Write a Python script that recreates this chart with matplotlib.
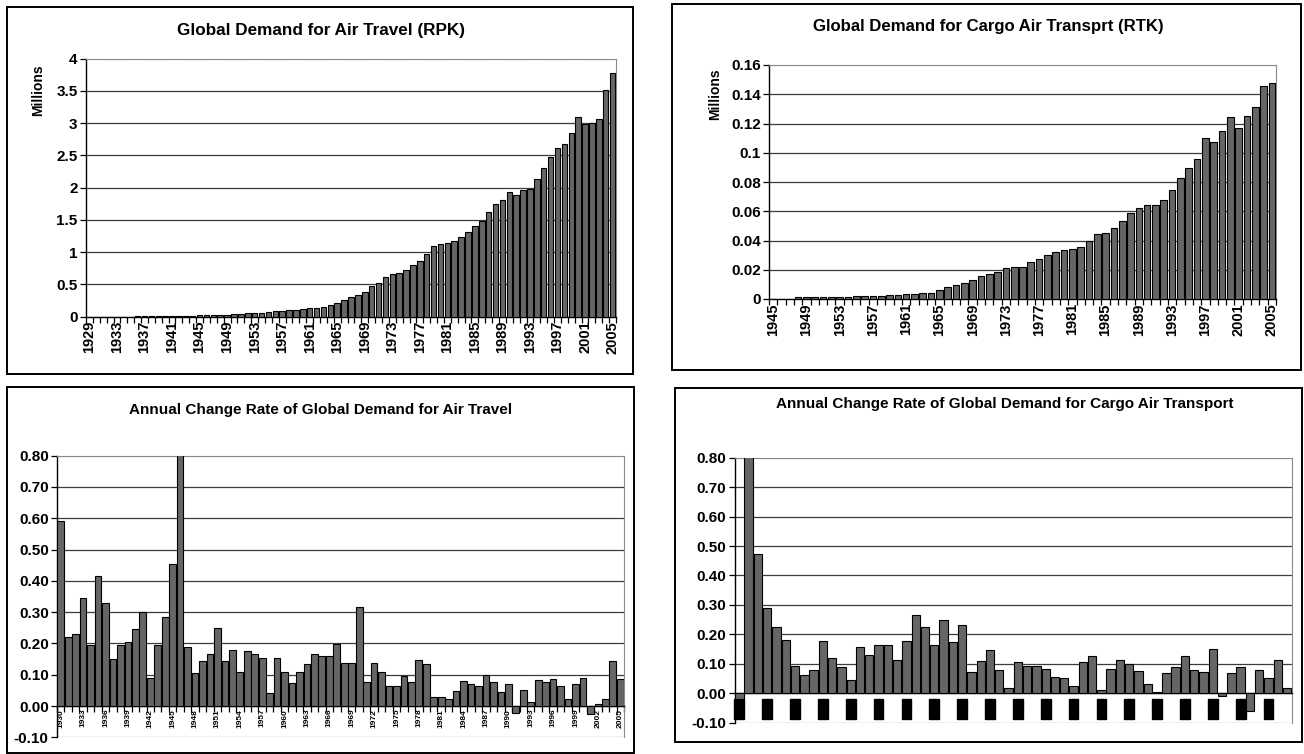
import numpy as np
import matplotlib
matplotlib.use("Agg")
import matplotlib.pyplot as plt
from matplotlib.patches import Rectangle

plt.rcParams['font.family'] = ['Liberation Sans', 'DejaVu Sans']
plt.rcParams['font.weight'] = 'bold'

# Revenue passenger km, 1929-2005 (millions)
rpk_years = list(range(1929, 2006))
rpk = [0.0005, 0.0008, 0.001, 0.0012, 0.0016, 0.0019, 0.0027, 0.0036, 0.0041, 0.0049,
       0.0059, 0.0074, 0.0096, 0.0105, 0.0126, 0.0162, 0.02, 0.025, 0.028, 0.03,
       0.033, 0.037, 0.045, 0.05, 0.057, 0.063, 0.072, 0.083, 0.093, 0.097,
       0.11, 0.12, 0.13, 0.14, 0.155, 0.185, 0.22, 0.26, 0.30, 0.34,
       0.38, 0.48, 0.52, 0.61, 0.66, 0.68, 0.73, 0.80, 0.86, 0.97,
       1.10, 1.12, 1.14, 1.18, 1.24, 1.32, 1.41, 1.49, 1.62, 1.75,
       1.81, 1.94, 1.89, 1.96, 1.98, 2.14, 2.30, 2.48, 2.62, 2.68,
       2.85, 3.09, 2.99, 3.01, 3.07, 3.51, 3.78]

# Revenue tonne km, 1945-2005 (millions)
rtk_years = list(range(1945, 2006))
rtk = [0.0, 0.0, 0.0, 0.0012, 0.0013, 0.0014, 0.0015, 0.0015, 0.0016, 0.0016,
       0.0022, 0.0022, 0.0023, 0.0023, 0.003, 0.003, 0.0031, 0.0032, 0.0038, 0.0044,
       0.006, 0.0082, 0.0095, 0.011, 0.0133, 0.0157, 0.0171, 0.0187, 0.0212, 0.022,
       0.0222, 0.0252, 0.0272, 0.0298, 0.0318, 0.0333, 0.0343, 0.0355, 0.0395, 0.0447,
       0.045, 0.0486, 0.0532, 0.0585, 0.0623, 0.064, 0.0643, 0.068, 0.0745, 0.0824,
       0.0893, 0.0954, 0.1098, 0.1075, 0.115, 0.1243, 0.117, 0.125, 0.1313, 0.1457,
       0.1477]

# Annual change rate of passenger demand, 1930-2005
rpk_rate_years = list(range(1930, 2006))
rpk_rate = [0.59, 0.22, 0.23, 0.345, 0.195, 0.415, 0.33, 0.15, 0.195, 0.205,
            0.245, 0.30, 0.09, 0.195, 0.285, 0.455, 0.81, 0.19, 0.105, 0.145,
            0.165, 0.25, 0.145, 0.18, 0.11, 0.175, 0.165, 0.155, 0.04, 0.155,
            0.11, 0.075, 0.11, 0.135, 0.165, 0.16, 0.16, 0.197, 0.136, 0.136,
            0.315, 0.076, 0.136, 0.108, 0.064, 0.064, 0.097, 0.076, 0.146, 0.135,
            0.030, 0.030, 0.022, 0.048, 0.080, 0.071, 0.065, 0.098, 0.078, 0.044,
            0.071, -0.023, 0.05, 0.014, 0.083, 0.078, 0.085, 0.064, 0.024, 0.069,
            0.088, -0.026, 0.007, 0.021, 0.145, 0.085]

# Annual change rate of cargo demand, 1946-2005
rtk_rate_years = list(range(1946, 2006))
rtk_rate = [-0.02, 0.81, 0.473, 0.288, 0.226, 0.181, 0.093, 0.062, 0.079, 0.178,
            0.121, 0.089, 0.045, 0.156, 0.130, 0.164, 0.164, 0.112, 0.179, 0.267,
            0.226, 0.164, 0.249, 0.175, 0.232, 0.071, 0.109, 0.147, 0.078, 0.017,
            0.107, 0.094, 0.094, 0.081, 0.055, 0.051, 0.023, 0.107, 0.127, 0.011,
            0.083, 0.112, 0.101, 0.074, 0.032, 0.004, 0.069, 0.09, 0.127, 0.079,
            0.071, 0.149, -0.008, 0.069, 0.09, -0.06, 0.078, 0.051, 0.112, 0.017]

W, H = 1304, 754
fig = plt.figure(figsize=(W / 100, H / 100), dpi=100)
fig.patch.set_facecolor('white')

BAR_FACE = '#666666'
GRID = '#3c3c3c'


def px_axes(x0, y0, x1, y1):
    return fig.add_axes([x0 / W, 1 - y1 / H, (x1 - x0) / W, (y1 - y0) / H])


def frame(x0, y0, x1, y1):
    fig.add_artist(Rectangle((x0 / W, 1 - y1 / H), (x1 - x0) / W, (y1 - y0) / H,
                             transform=fig.transFigure, fill=False, lw=1.4, ec='black'))


def ftext(x, y, s, **kw):
    fig.text(x / W, 1 - y / H, s, ha='center', va='center', weight='bold', **kw)


def bar_panel(ax, years, values, width, ylim, yticks, yfmt, step, first, xlsize,
              zero_axis=False):
    if zero_axis:
        # category axis crosses at zero, plot area border stays at the bottom
        ax.spines['bottom'].set_position(('data', 0))
        ax.axhline(ylim[0], color='#8a8a8a', lw=0.9, zorder=1)
    x = np.arange(len(values))
    ax.bar(x, values, width=width, color=BAR_FACE, edgecolor='black', linewidth=0.8, zorder=3)
    ax.set_xlim(-0.5, len(values) - 0.5)
    ax.set_ylim(*ylim)
    ax.set_yticks(yticks)
    ax.set_yticklabels([yfmt(v) for v in yticks])
    for v in yticks:
        if ylim[0] < v < ylim[1] and abs(v) > 1e-9:
            ax.axhline(v, color=GRID, lw=0.9, zorder=1)
    ax.axhline(ylim[1], color='#8a8a8a', lw=0.9, ls=(0, (1, 1)), zorder=1)
    pos = [i for i, y in enumerate(years) if (y - first) % step == 0 and y >= first]
    ax.set_xticks(pos)
    ax.set_xticklabels([str(years[i]) for i in pos], rotation=90, fontsize=xlsize)
    ax.set_xticks(np.arange(len(values) + 1) - 0.5, minor=True)
    ax.tick_params(axis='x', which='minor', length=4, direction='out', width=0.9)
    ax.tick_params(axis='x', which='major', length=0, pad=3)
    ax.tick_params(axis='y', length=4, width=0.9, labelsize=11, pad=2)
    for s in ('top', 'right'):
        ax.spines[s].set_color('#8a8a8a')
        ax.spines[s].set_linewidth(0.8)
    ax.spines['left'].set_linewidth(1.0)
    ax.spines['bottom'].set_linewidth(1.0)


# top left: passenger demand
frame(7, 7, 633, 374)
ax1 = px_axes(86, 58.7, 616, 316.7)
bar_panel(ax1, rpk_years, rpk, 0.8, (0, 4), np.arange(0, 4.01, 0.5),
          lambda v: f'{v:g}', 4, 1929, 10.5)
ftext(321, 31, 'Global Demand for Air Travel (RPK)', fontsize=12.3)
ftext(38, 90, 'Millions', fontsize=10, rotation=90)

# top right: cargo demand
frame(672, 4, 1301, 370)
ax2 = px_axes(769, 65, 1276, 299)
bar_panel(ax2, rtk_years, rtk, 0.8, (0, 0.16), np.arange(0, 0.161, 0.02),
          lambda v: f'{round(v, 2):g}', 4, 1945, 10.5)
ftext(988, 27, 'Global Demand for Cargo Air Transprt (RTK)', fontsize=12.1)
ftext(715, 94, 'Millions', fontsize=10, rotation=90)

# bottom left: passenger change rate
frame(7, 387, 634, 753)
ax3 = px_axes(57, 455.7, 624, 737.3)
bar_panel(ax3, rpk_rate_years, rpk_rate, 0.9, (-0.1, 0.8), np.arange(-0.1, 0.81, 0.1),
          lambda v: f'{v:.2f}', 3, 1930, 6, zero_axis=True)
ax3.tick_params(axis='x', which='major', pad=2)
ftext(321, 410, 'Annual Change Rate of Global Demand for Air Travel', fontsize=11)

# bottom right: cargo change rate
frame(675, 388, 1302, 742)
ax4 = px_axes(734.7, 457.7, 1291.7, 722.7)
bar_panel(ax4, rtk_rate_years, rtk_rate, 0.9, (-0.1, 0.8), np.arange(-0.1, 0.81, 0.1),
          lambda v: f'{v:.2f}', 3, 1946, 5.5, zero_axis=True)
ax4.tick_params(axis='x', which='minor', length=0)
ax4.tick_params(axis='x', which='major', pad=5)
for lbl in ax4.get_xticklabels():
    lbl.set_color('black')
    lbl.set_bbox(dict(facecolor='black', edgecolor='black', pad=1.0))
ftext(1005, 404, 'Annual Change Rate of Global Demand for Cargo Air Transport', fontsize=11)

fig.savefig('out.png', dpi=100)
